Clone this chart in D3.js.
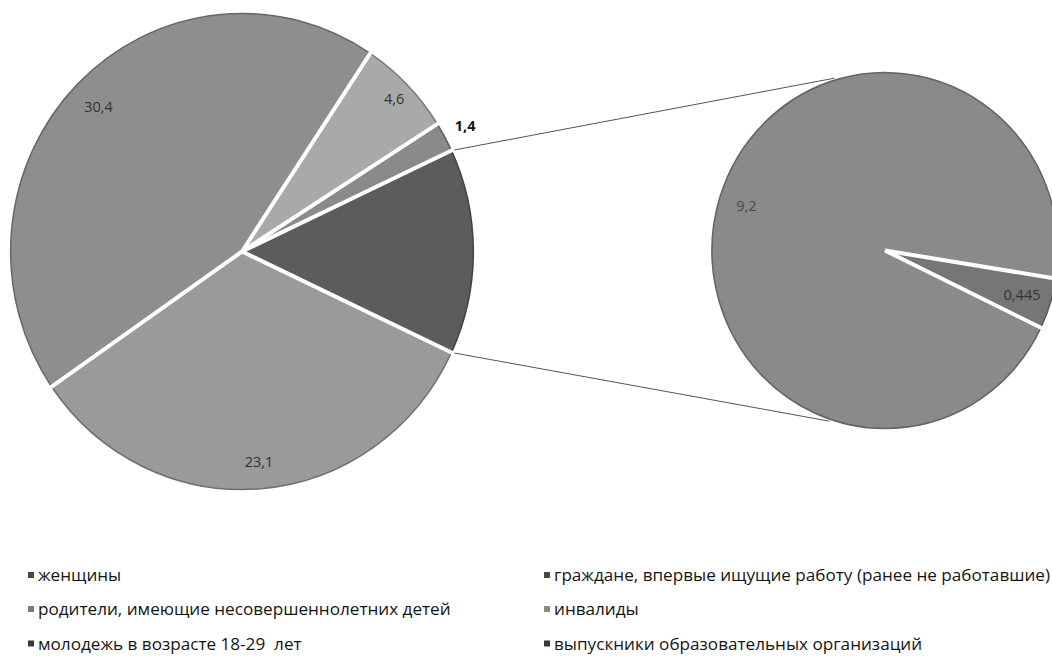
<!DOCTYPE html>
<html><head><meta charset="utf-8">
<script src="https://cdn.jsdelivr.net/npm/d3@7"></script>
<style>html,body{margin:0;padding:0;background:#fff;}svg{display:block;}</style>
</head><body>
<svg id="chart" width="1052" height="657"></svg>
<script>
// ---- data ----
const categories = [
  "женщины",
  "родители, имеющие несовершеннолетних детей",
  "молодежь в возрасте 18-29  лет",
  "граждане, впервые ищущие работу (ранее не работавшие)",
  "инвалиды",
  "выпускники образовательных организаций"
];
const values = [23.1, 30.4, 4.6, 1.4, 9.2, 0.445];
const valueLabels = ["23,1", "30,4", "4,6", "1,4", "9,2", "0,445"];
const secondaryCount = 2; // last points go to the secondary pie

// ---- style ----
const sliceColors = ["#9a9a9a", "#8e8e8e", "#a9a9a9", "#8a8a8a", "#8a8a8a", "#767676"];
const otherColor = "#5c5c5c";
const legendMarkColors = ["#484848", "#7a7a7a", "#383838", "#484848", "#8a8a8a", "#383838"];

const svg = d3.select("#chart");
const sx = 0.972; // picture is slightly compressed horizontally

const nMain = values.length - secondaryCount;
const mainData = values.slice(0, nMain).map((v, i) => ({v, i}));
const otherValue = d3.sum(values.slice(nMain));
mainData.push({v: otherValue, i: -1});
const total = d3.sum(mainData, d => d.v);
const otherAngle = otherValue / total * 2 * Math.PI;

// main pie
const M = {cx: 242, cy: 251.5, r: 238};
const mainStart = Math.PI / 2 + otherAngle / 2;
const mainPie = d3.pie().sort(null).value(d => d.v).startAngle(mainStart).endAngle(mainStart + 2 * Math.PI);
const mainArcs = mainPie(mainData);
const arcM = d3.arc().innerRadius(0).outerRadius(M.r);

const gM = svg.append("g").attr("transform", `translate(${M.cx},${M.cy}) scale(${sx},1)`);

// secondary pie
const S = {cx: 885, cy: 250.5, r: 178};
const secData = values.slice(nMain).map((v, k) => ({v, i: nMain + k}));
const secStart = 115.7 * Math.PI / 180;
const secPie = d3.pie().sort(null).value(d => d.v).startAngle(secStart).endAngle(secStart + 2 * Math.PI);
const secArcs = secPie(secData);
const arcS = d3.arc().innerRadius(0).outerRadius(S.r);
const gS = svg.append("g").attr("transform", `translate(${S.cx},${S.cy}) scale(${sx},1)`);

// connector lines
const pt = (c, r, a) => [c.cx + sx * r * Math.sin(a), c.cy - r * Math.cos(a)];
const otherArc = mainArcs[mainArcs.length - 1];
const conn = [
  [pt(M, M.r, otherArc.startAngle), pt(S, S.r + 2, -16.8 * Math.PI / 180)],
  [pt(M, M.r, otherArc.endAngle), pt(S, S.r + 2, 198.5 * Math.PI / 180)]
];
svg.insert("g", "g").selectAll("line").data(conn).join("line")
  .attr("x1", d => d[0][0]).attr("y1", d => d[0][1])
  .attr("x2", d => d[1][0]).attr("y2", d => d[1][1])
  .attr("stroke", "#555").attr("stroke-width", 1);

function drawPie(g, arcs, arcGen, r, colorOf) {
  g.selectAll("path.slice").data(arcs).join("path")
    .attr("class", "slice")
    .attr("d", arcGen)
    .attr("fill", d => colorOf(d))
    .attr("stroke", d => d3.color(colorOf(d)).darker(0.9))
    .attr("stroke-width", 1.6);
  // white separators
  g.selectAll("line.sep").data(arcs).join("line")
    .attr("class", "sep")
    .attr("x1", 0).attr("y1", 0)
    .attr("x2", d => (r + 3) * Math.sin(d.startAngle))
    .attr("y2", d => -(r + 3) * Math.cos(d.startAngle))
    .attr("stroke", "#fff").attr("stroke-width", 4);
}
drawPie(gM, mainArcs, arcM, M.r, d => d.data.i < 0 ? otherColor : sliceColors[d.data.i]);
drawPie(gS, secArcs, arcS, S.r, d => sliceColors[d.data.i]);

// labels
const fontFam = "'Open Sans', 'Liberation Sans', sans-serif";
const labelR = {0: 0.885, 1: 0.87, 2: 0.92, 3: 1.1, 4: 0.84, 5: 0.83};
function addLabels(arcs, c, r) {
  svg.append("g").selectAll("text").data(arcs.filter(d => d.data.i >= 0)).join("text")
    .attr("x", d => pt(c, r * labelR[d.data.i], (d.startAngle + d.endAngle) / 2)[0])
    .attr("y", d => pt(c, r * labelR[d.data.i], (d.startAngle + d.endAngle) / 2)[1])
    .attr("text-anchor", "middle").attr("dominant-baseline", "central")
    .attr("font-family", fontFam).attr("font-size", 14.5)
    .attr("font-weight", d => d.data.i === 3 ? "bold" : "normal")
    .attr("fill", d => d.data.i === 3 ? "#111" : (d.data.i === 4 ? "#4a4a4a" : "#333"))
    .text(d => valueLabels[d.data.i]);
}
addLabels(mainArcs, M, M.r);
addLabels(secArcs, S, S.r);

// legend (column-wise, 2 columns x 3 rows), uniformly condensed text
const lg = svg.append("g");
const colX = [28, 544];
const rowY = [575, 609, 643.5];
const texts = [];
categories.forEach((c, i) => {
  const col = Math.floor(i / 3), row = i % 3;
  lg.append("rect").attr("x", colX[col]).attr("y", rowY[row] - 3)
    .attr("width", 6).attr("height", 6).attr("fill", legendMarkColors[i]);
  texts.push(lg.append("text").attr("x", colX[col] + 10).attr("y", rowY[row])
    .attr("dominant-baseline", "central")
    .style("white-space", "pre")
    .attr("font-family", fontFam).attr("font-size", 16).attr("fill", "#151515")
    .text(c));
});
const longest = texts[3].node().getComputedTextLength();
const f = (1050 - (colX[1] + 10)) / longest;
texts.forEach(t => {
  const w = t.node().getComputedTextLength();
  t.attr("textLength", w * f).attr("lengthAdjust", "spacingAndGlyphs");
});
</script>
</body></html>
